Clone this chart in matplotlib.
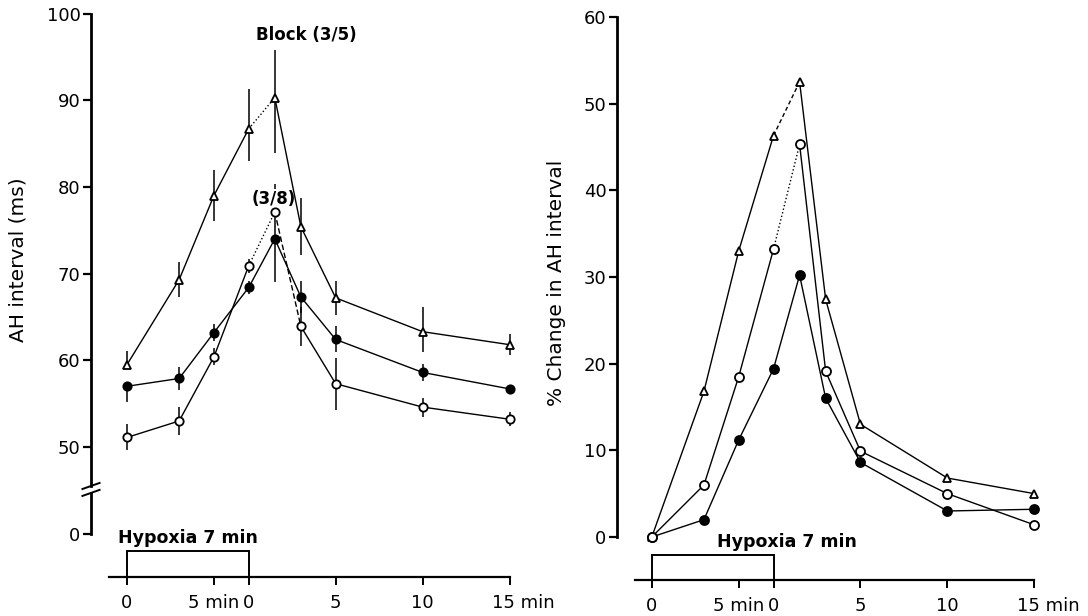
import matplotlib
matplotlib.use("Agg")
import matplotlib.pyplot as plt
import matplotlib.transforms as mtransforms
from matplotlib.patches import Rectangle

plt.rcParams['font.family'] = ['DejaVu Sans']

# time axis: hypoxia 0..7 min, then recovery (7 + minutes)
hypoxia_min = 7
times = [0, 3, 5, 7, 8.5, 10, 12, 17, 22]
xtick_pos = [0, 5, 7, 12, 17, 22]
xtick_lab = ['0', '5 min', '0', '5', '10', '15 min']

# left panel: AH interval (ms)
ah_tri = [59.5, 69.3, 79.0, 86.7, 90.3, 75.4, 67.2, 63.3, 61.8]
ah_tri_lo = [0.0, 2.0, 2.9, 3.7, 6.4, 3.3, 2.0, 2.4, 1.2]
ah_tri_hi = [1.6, 2.0, 2.9, 4.6, 5.5, 3.3, 2.0, 2.8, 1.2]
ah_fill = [57.0, 57.9, 63.2, 68.4, 74.0, 67.3, 62.4, 58.6, 56.7]
ah_fill_lo = [1.8, 1.3, 1.0, 0.8, 5.0, 1.9, 1.5, 1.0, 0.5]
ah_fill_hi = [0.0, 1.3, 1.0, 0.8, 0.0, 1.9, 1.5, 1.0, 0.5]
ah_open = [51.1, 53.0, 60.4, 70.9, 77.1, 63.9, 57.3, 54.6, 53.2]
ah_open_lo = [1.5, 1.6, 1.0, 0.8, 3.1, 2.3, 3.0, 1.1, 0.8]
ah_open_hi = [1.5, 1.6, 1.0, 0.8, 3.2, 2.3, 3.0, 1.1, 0.8]
ah_yticks = [40, 50, 60, 70, 80, 90, 100]
ah_ylabels = ['0', '50', '60', '70', '80', '90', '100']

# right panel: % change in AH interval
pc_tri = [0, 16.8, 33.0, 46.3, 52.5, 27.4, 13.0, 6.8, 5.0]
pc_fill = [0, 2.0, 11.2, 19.4, 30.2, 16.0, 8.6, 3.0, 3.2]
pc_open = [0, 6.0, 18.5, 33.2, 45.3, 19.1, 9.9, 5.0, 1.4]

styles_l_tri = ['-', '-', '-', ':', '-', '-', '-', '-']
styles_l_fill = ['-'] * 8
styles_l_open = ['-', '-', '-', ':', (0, (4, 2)), '-', '-', '-']
styles_r_tri = ['-', '-', '-', (0, (3, 2)), '-', '-', '-', '-']
styles_r_fill = ['-'] * 8
styles_r_open = ['-', '-', '-', ':', '-', '-', '-', '-']


def draw_series(ax, t, v, styles, marker, face, ms):
    for i, ls in enumerate(styles):
        ax.plot(t[i:i + 2], v[i:i + 2], color='black', lw=1.0, ls=ls, zorder=2)
    ax.plot(t, v, ls='none', marker=marker, mfc=face, mec='black',
            ms=ms, mew=1.3, zorder=4, clip_on=False)


def style_axes(ax, xlo):
    for s in ['top', 'right']:
        ax.spines[s].set_visible(False)
    ax.spines['left'].set_linewidth(2.0)
    ax.spines['bottom'].set_linewidth(1.6)
    ax.spines['bottom'].set_bounds(xlo, times[-1])
    ax.set_xticks(xtick_pos)
    ax.set_xticklabels(xtick_lab)
    ax.tick_params(axis='y', direction='out', length=6, width=1.6, labelsize=13, pad=1.5)
    ax.tick_params(axis='x', direction='out', length=6, width=1.4, labelsize=13, pad=6)
    # "15 min": keep the number on the tick
    lab = ax.get_xticklabels()[-1]
    lab.set_transform(lab.get_transform() +
                      mtransforms.ScaledTranslation(0.14, 0, ax.figure.dpi_scale_trans))


fig = plt.figure(figsize=(10.88, 6.16), dpi=100)

# ---------------- left panel ----------------
axL = fig.add_axes([91 / 1088, 39 / 616, 429 / 1088, 567.8 / 616])
axL.set_xlim(-2.07, 22.6)
axL.set_ylim(35, 100.5)
style_axes(axL, -1.03)
axL.set_yticks(ah_yticks)
axL.set_yticklabels(ah_ylabels)
axL.spines['left'].set_bounds(45.5, 100)
# lower part of the broken axis and the break marks
blend = mtransforms.blended_transform_factory(axL.transAxes, axL.transData)
axL.plot([0, 0], [40, 44.7], color='black', lw=2.0, transform=blend, clip_on=False)
for yb in [44.7, 45.5]:
    axL.plot([-0.02, 0.02], [yb - 0.35, yb + 0.35], color='black', lw=1.4,
             transform=blend, clip_on=False)

axL.errorbar(times, ah_tri, yerr=[ah_tri_lo, ah_tri_hi], fmt='none', ecolor='black', elinewidth=1.1, zorder=1)
axL.errorbar(times, ah_fill, yerr=[ah_fill_lo, ah_fill_hi], fmt='none', ecolor='black', elinewidth=1.1, zorder=1)
axL.errorbar(times, ah_open, yerr=[ah_open_lo, ah_open_hi], fmt='none', ecolor='black', elinewidth=1.1, zorder=1)
draw_series(axL, times, ah_tri, styles_l_tri, '^', 'white', 5.5)
draw_series(axL, times, ah_fill, styles_l_fill, 'o', 'black', 6)
draw_series(axL, times, ah_open, styles_l_open, 'o', 'white', 6)

axL.text(7.4, 97.5, 'Block (3/5)', fontsize=12, fontweight='bold', ha='left', va='center')
axL.text(8.45, 78.6, '(3/8)', fontsize=12, fontweight='bold', ha='center', va='center',
         zorder=1.5, bbox=dict(facecolor='white', edgecolor='none', pad=0.5))
axL.add_patch(Rectangle((0, 35), hypoxia_min, 3.0, fill=False, ec='black', lw=1.4, clip_on=False))
axL.text(-0.52, 39.5, 'Hypoxia 7 min', fontsize=12.5, fontweight='bold', ha='left', va='center')

# ---------------- right panel ----------------
axR = fig.add_axes([617 / 1088, 36 / 616, 433 / 1088, 567.5 / 616])
axR.set_xlim(-2.0, 22.9)
axR.set_ylim(-4.96, 60.5)
style_axes(axR, -0.98)
axR.set_yticks([0, 10, 20, 30, 40, 50, 60])
axR.spines['left'].set_bounds(0, 60)

draw_series(axR, times, pc_tri, styles_r_tri, '^', 'white', 5.5)
draw_series(axR, times, pc_fill, styles_r_fill, 'o', 'black', 6.5)
draw_series(axR, times, pc_open, styles_r_open, 'o', 'white', 6.5)

axR.add_patch(Rectangle((0, -4.96), hypoxia_min, 2.88, fill=False, ec='black', lw=1.4, clip_on=False))
axR.text(3.74, -0.6, 'Hypoxia 7 min', fontsize=12.5, fontweight='bold', ha='left', va='center')

fig.text(18 / 1088, 1 - 260 / 616, 'AH interval (ms)', rotation=90, fontsize=14.5,
         ha='center', va='center')
fig.text(557 / 1088, 1 - 283 / 616, '% Change in AH interval', rotation=90, fontsize=14.5,
         ha='center', va='center')

fig.savefig('out.png', dpi=100)
